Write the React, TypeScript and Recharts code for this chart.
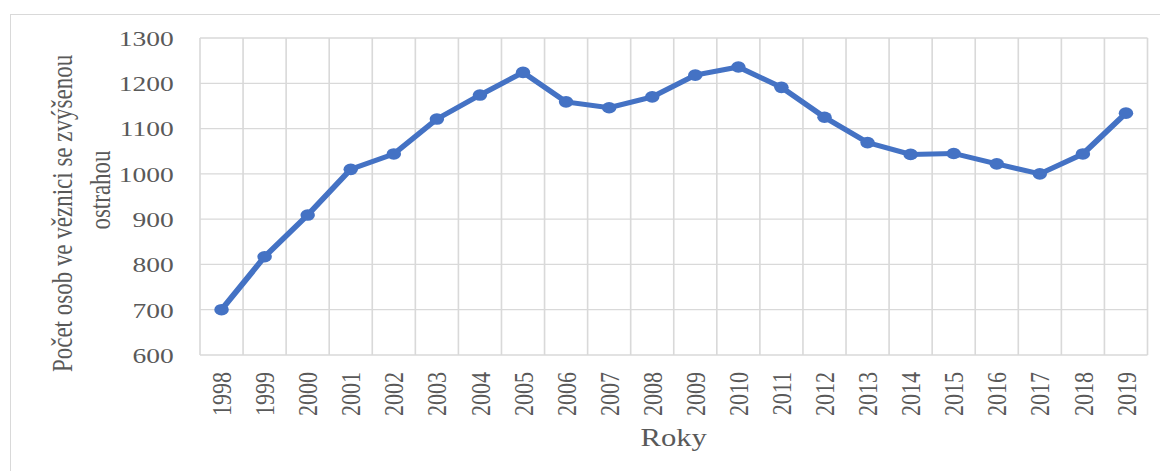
import React from 'react';
import { LineChart, Line, XAxis, YAxis, CartesianGrid, Label } from 'recharts';

const years = ['1998', '1999', '2000', '2001', '2002', '2003', '2004', '2005', '2006', '2007', '2008', '2009', '2010', '2011', '2012', '2013', '2014', '2015', '2016', '2017', '2018', '2019'];
const inmates = [700, 817, 909, 1010, 1044, 1121, 1174, 1224, 1159, 1146, 1170, 1218, 1236, 1191, 1125, 1069, 1043, 1045, 1022, 1000, 1044, 1134];
const yTicks = [600, 700, 800, 900, 1000, 1100, 1200, 1300];
const yTitleLines = ['Počet osob ve věznici se zvýšenou', 'ostrahou'];
const xTitle = 'Roky';

const data = years.map((year, i) => ({ year, value: inmates[i] }));

const FONT = '"Liberation Serif", "Times New Roman", serif';
const TEXT = '#595959';
const GRID = '#d9d9d9';
const BLUE = '#4472C4';

const XTick = (props: any) => {
  const { x, y, payload } = props;
  return (
    <text
      x={x}
      y={y}
      transform={`rotate(-90 ${x} ${y})`}
      textAnchor="end"
      dy="0.35em"
      fill={TEXT}
      fontSize={22}
      fontFamily={FONT}
    >
      {payload.value}
    </text>
  );
};

const YTitle = (props: any) => {
  const pos = [
    { x: 50, y: 213.5 },
    { x: 80.5, y: 190 },
  ];
  return (
    <g>
      {yTitleLines.map((t, i) => (
        <text
          key={i}
          x={pos[i].x}
          y={pos[i].y}
          transform={`rotate(-90 ${pos[i].x} ${pos[i].y})`}
          textAnchor="middle"
          dominantBaseline="central"
          fill={TEXT}
          fontSize={23}
          fontFamily={FONT}
        >
          {t}
        </text>
      ))}
    </g>
  );
};

const XTitle = (props: any) => {
  const { viewBox } = props;
  const cx = viewBox.x + viewBox.width / 2;
  return (
    <text x={cx} y={viewBox.y + 91.5} textAnchor="middle" fill={TEXT} fontSize={24.5} fontFamily={FONT}>
      {xTitle}
    </text>
  );
};

export default function App() {
  return (
    <div style={{ position: 'absolute', left: 0, top: 0, width: 1160, height: 471, overflow: 'hidden', background: '#fff' }}>
      <div
        style={{
          position: 'absolute',
          left: 10,
          top: 14,
          width: 1150,
          height: 457,
          borderTop: `1.5px solid ${GRID}`,
          borderLeft: `1.5px solid ${GRID}`,
          boxSizing: 'border-box',
        }}
      />
      <div style={{ position: 'absolute', left: 0, top: 0, width: 928, height: 471, transform: 'scaleX(1.25)', transformOrigin: '0 0' }}>
        <LineChart width={928} height={471} data={data} margin={{ top: 38, right: 10, bottom: 0, left: 0 }}>
          <CartesianGrid
            stroke={GRID}
            strokeWidth={1.3}
            verticalCoordinatesGenerator={({ offset }: any) =>
              Array.from({ length: years.length + 1 }, (_, i) => offset.left + (i * offset.width) / years.length)
            }
          />
          <XAxis
            dataKey="year"
            scale="band"
            interval={0}
            height={116}
            axisLine={false}
            tickLine={false}
            tickSize={0}
            tickMargin={17}
            tick={<XTick />}
          >
            <Label content={<XTitle />} />
          </XAxis>
          <YAxis
            width={160}
            domain={[600, 1300]}
            ticks={yTicks}
            interval={0}
            axisLine={false}
            tickLine={false}
            tickSize={0}
            tickMargin={21}
            tick={{ fill: TEXT, fontSize: 22, fontFamily: FONT }}
          >
            <Label content={<YTitle />} />
          </YAxis>
          <Line
            type="linear"
            dataKey="value"
            stroke={BLUE}
            strokeWidth={5}
            dot={{ r: 5.8, fill: BLUE, stroke: BLUE, strokeWidth: 0 }}
            activeDot={false}
            isAnimationActive={false}
          />
        </LineChart>
      </div>
    </div>
  );
}
